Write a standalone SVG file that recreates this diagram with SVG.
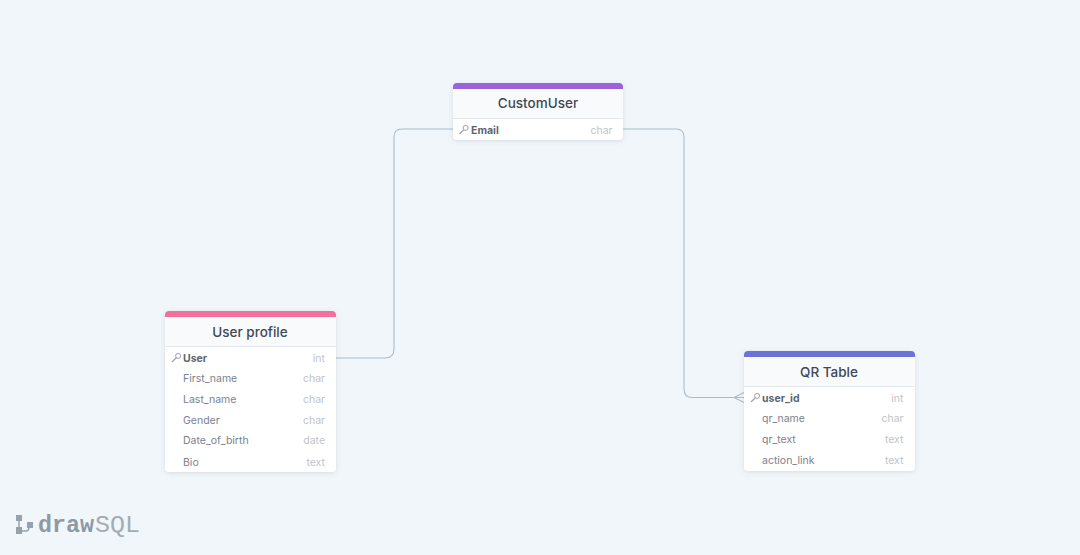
<svg xmlns="http://www.w3.org/2000/svg" width="1080" height="555" viewBox="0 0 1080 555">
<defs>
<filter id="sh" x="-10%" y="-10%" width="120%" height="125%"><feDropShadow dx="0" dy="1" stdDeviation="2" flood-color="#64748b" flood-opacity="0.2"/></filter>
<g id="key"><circle cx="2.600" cy="-2.600" r="2.500" fill="none" stroke="#9aa2ad" stroke-width="1"/><path d="M0.900 -0.900L-3.500 3.500" fill="none" stroke="#9aa2ad" stroke-width="1.300"/></g>
</defs>
<style>
text{font-family:Inter,"Liberation Sans",sans-serif}
.title{font-size:13.500px;fill:#404856;text-anchor:middle;font-weight:450}
.pk{font-size:10.500px;fill:#5d6572;font-weight:700}
.col{font-size:10.500px;fill:#7b828d}
.ty{font-size:10.500px;fill:#c0c4ca;text-anchor:end}
.body{fill:#fff}
.head{fill:#f9fafc}
.sep{stroke:#e5e8ec;stroke-width:1}
.conn{fill:none;stroke:#a8bccd;stroke-width:1.100}
</style>
<rect width="1080" height="555" fill="#f1f6fa"/>
<g id="connectors">
<path class="conn" d="M453 129H402Q394 129 394 137V349Q394 358 385 358H336"/>
<path class="conn" d="M623 129H676Q684 129 684 137V389Q684 397.500 692 397.500H744"/>
<path class="conn" d="M734 397.500L744 392.500M734 397.500L744 402.500"/>
</g>
<g id="CustomUser">
<rect class="body" x="453" y="83" width="170" height="57" rx="4" filter="url(#sh)"/>
<path class="head" d="M453 88H623V118H453Z"/>
<path fill="#9b62dc" d="M453 89V87Q453 83 457 83H619Q623 83 623 87V89Z"/>
<line class="sep" x1="453" y1="118.500" x2="623" y2="118.500"/>
<text class="title" x="538" y="108">CustomUser</text>
<use href="#key" x="463" y="130.500"/>
<text class="pk" x="471" y="134">Email</text>
<text class="ty" x="612.500" y="134">char</text>
</g>
<g id="UserProfile">
<rect class="body" x="165" y="311" width="171" height="161" rx="4" filter="url(#sh)"/>
<path class="head" d="M165 316H336V346H165Z"/>
<path fill="#f4709c" d="M165 317V315Q165 311 169 311H332Q336 311 336 315V317Z"/>
<line class="sep" x1="165" y1="346.500" x2="336" y2="346.500"/>
<text class="title" x="250" y="336.500">User profile</text>
<use href="#key" x="175.500" y="358.500"/>
<text class="pk" x="183" y="362">User</text><text class="ty" x="325" y="362">int</text>
<text class="col" x="183" y="382">First_name</text><text class="ty" x="325" y="382">char</text>
<text class="col" x="183" y="403">Last_name</text><text class="ty" x="325" y="403">char</text>
<text class="col" x="183" y="424">Gender</text><text class="ty" x="325" y="424">char</text>
<text class="col" x="183" y="444">Date_of_birth</text><text class="ty" x="325" y="444">date</text>
<text class="col" x="183" y="465.500">Bio</text><text class="ty" x="325" y="465.500">text</text>
</g>
<g id="QRTable">
<rect class="body" x="744" y="351" width="171" height="120" rx="4" filter="url(#sh)"/>
<path class="head" d="M744 356H915V386H744Z"/>
<path fill="#6b74d6" d="M744 357V355Q744 351 748 351H911Q915 351 915 355V357Z"/>
<line class="sep" x1="744" y1="386.500" x2="915" y2="386.500"/>
<text class="title" x="829" y="376.500">QR Table</text>
<use href="#key" x="754.500" y="398.500"/>
<text class="pk" x="762" y="402">user_id</text><text class="ty" x="903.500" y="402">int</text>
<text class="col" x="762" y="422">qr_name</text><text class="ty" x="903.500" y="422">char</text>
<text class="col" x="762" y="443">qr_text</text><text class="ty" x="903.500" y="443">text</text>
<text class="col" x="762" y="464">action_link</text><text class="ty" x="903.500" y="464">text</text>
</g>
<g id="logo">
<g fill="#97a1ab">
<rect x="16" y="515" width="6" height="6"/><rect x="16" y="527" width="6" height="7"/><rect x="27" y="522" width="6" height="6"/>
</g>
<path d="M19 521V527M21 531H26Q29 531 29 527" fill="none" stroke="#97a1ab" stroke-width="1.500"/>
<text x="38" y="532" style="font-family:'Liberation Mono',monospace;font-size:24px;font-weight:700;fill:#8f99a3" textLength="56" lengthAdjust="spacingAndGlyphs">draw</text>
<text x="95" y="532" style="font-family:'Liberation Mono',monospace;font-size:24px;fill:#a3acb5" textLength="45" lengthAdjust="spacingAndGlyphs">SQL</text>
</g>
</svg>
